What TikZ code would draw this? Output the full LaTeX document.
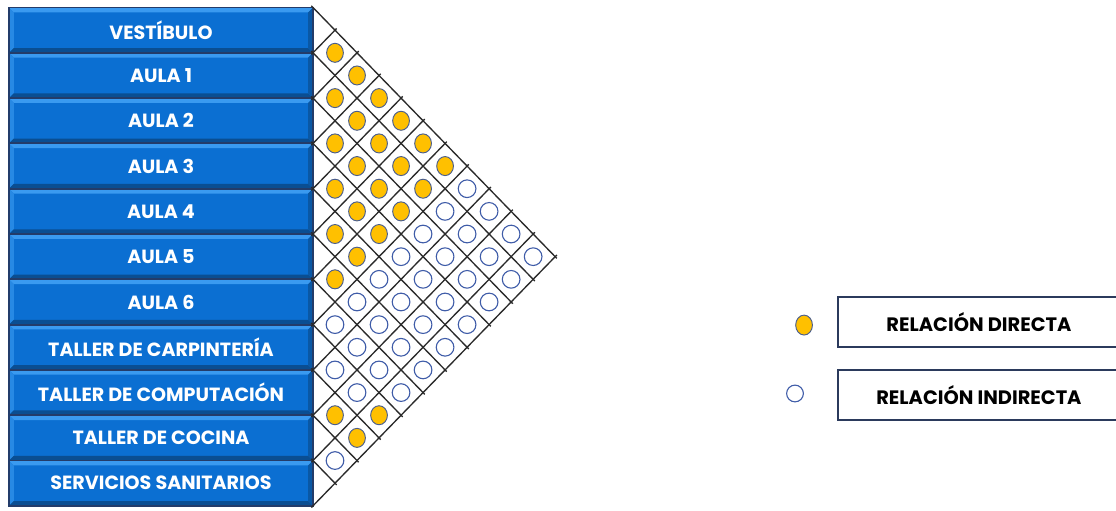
\documentclass[tikz,border=0pt]{standalone}
\usepackage{fontspec}
\setmainfont{Poppins}
\usetikzlibrary{positioning, shapes.geometric, calc}
\definecolor{roomBlue}{HTML}{0B6FD2}
\definecolor{roomLight}{HTML}{3A9AF0}
\definecolor{roomDark}{HTML}{0A4E92}
\definecolor{navyEdge}{HTML}{233C6A}
\definecolor{dotYellow}{HTML}{FFC000}
\definecolor{dotEdge}{HTML}{4A5E8E}
\definecolor{ringBlue}{HTML}{3F5CA8}
\definecolor{gridGray}{HTML}{2A2A2A}
\definecolor{legEdge}{HTML}{2B3A5C}
\newcommand{\cellw}{0.486}

\begin{document}
\begin{tikzpicture}[
  room/.style={draw=navyEdge, line width=1.2pt, fill=roomBlue, inner sep=0pt,
               minimum width=6.71cm, minimum height=1cm, text=white,
               font=\bfseries\fontsize{12}{14}\selectfont,
               path picture={
                 \fill[roomLight] (path picture bounding box.north west) -- (path picture bounding box.north east)
                   -- ([shift={(-3pt,-3pt)}]path picture bounding box.north east) -- ([shift={(3pt,-3pt)}]path picture bounding box.north west) -- cycle;
                 \fill[roomLight!60!roomBlue] (path picture bounding box.north west) -- (path picture bounding box.south west)
                   -- ([shift={(3pt,3pt)}]path picture bounding box.south west) -- ([shift={(3pt,-3pt)}]path picture bounding box.north west) -- cycle;
                 \fill[roomDark] (path picture bounding box.south west) -- (path picture bounding box.south east)
                   -- ([shift={(-3pt,3pt)}]path picture bounding box.south east) -- ([shift={(3pt,3pt)}]path picture bounding box.south west) -- cycle;
                 \fill[roomDark!70!roomBlue] (path picture bounding box.north east) -- (path picture bounding box.south east)
                   -- ([shift={(-3pt,3pt)}]path picture bounding box.south east) -- ([shift={(-3pt,-3pt)}]path picture bounding box.north east) -- cycle;
               }},
  direct/.style={ellipse, draw=dotEdge, fill=dotYellow, line width=0.6pt, inner sep=0pt,
                 minimum width=0.37cm, minimum height=0.42cm},
  indirect/.style={circle, draw=ringBlue, fill=white, line width=0.7pt, inner sep=0pt,
                   minimum size=0.39cm},
  cellline/.style={gridGray, line width=0.85pt, shorten <=-1.5pt, shorten >=-1.5pt},
  legbox/.style={draw=legEdge, line width=1.4pt, minimum width=6.22cm, minimum height=1.1cm,
                 font=\bfseries\fontsize{12.2}{14}\selectfont},
]
  \useasboundingbox (-6.909,0.166) rectangle (17.726,-11.093);
  \clip (-6.909,0.166) rectangle (17.726,-11.093);

  % rooms
  \foreach \nm [count=\k from 0] in {VESTÍBULO, AULA 1, AULA 2, AULA 3, AULA 4, AULA 5, AULA 6,
      TALLER DE CARPINTERÍA, TALLER DE COMPUTACIÓN, TALLER DE COCINA, SERVICIOS SANITARIOS}
    \node[room] (r\k) at (-3.355,{-\k-0.5}) {\nm};

  % matrix lines
  \foreach \m in {0,...,11}
    \coordinate (p\m) at (0,-\m);
  \foreach \m in {0,...,10}
    \draw[cellline] (p\m) -- ++({\cellw*(11-\m)},{-(11-\m)/2});
  \foreach \m in {1,...,11}
    \draw[cellline] (p\m) -- ++({\cellw*\m},{\m/2});

  % direct relations
  \foreach \i/\j in {0/1,1/2,2/3,3/4,4/5,5/6,8/9,
                     0/2,1/3,2/4,3/5,4/6,8/10,
                     0/3,1/4,2/5,3/6,7/10,
                     0/4,1/5,2/6, 0/5,1/6, 0/6}
    \node[direct] (c\i-\j) at ({\cellw*(\j-\i)},{-(\i+\j+1)/2}) {};

  % indirect relations
  \foreach \i/\j in {6/7,7/8,9/10, 5/7,6/8,7/9, 4/7,5/8,6/9,
                     3/7,4/8,5/9,6/10, 2/7,3/8,4/9,5/10, 1/7,2/8,3/9,4/10,
                     0/7,1/8,2/9,3/10, 0/8,1/9,2/10, 0/9,1/10, 0/10}
    \node[indirect] (c\i-\j) at ({\cellw*(\j-\i)},{-(\i+\j+1)/2}) {};

  % legend
  \node[direct, minimum height=0.44cm] (kdir) at (10.84,-7.01) {};
  \node[indirect, minimum size=0.37cm] (kind) at (10.64,-8.52) {};
  \node[legbox] (ldir) at (14.70,-6.94) {RELACIÓN DIRECTA};
  \node[legbox] (lind) at (14.70,-8.555) {RELACIÓN INDIRECTA};
\end{tikzpicture}
\end{document}
